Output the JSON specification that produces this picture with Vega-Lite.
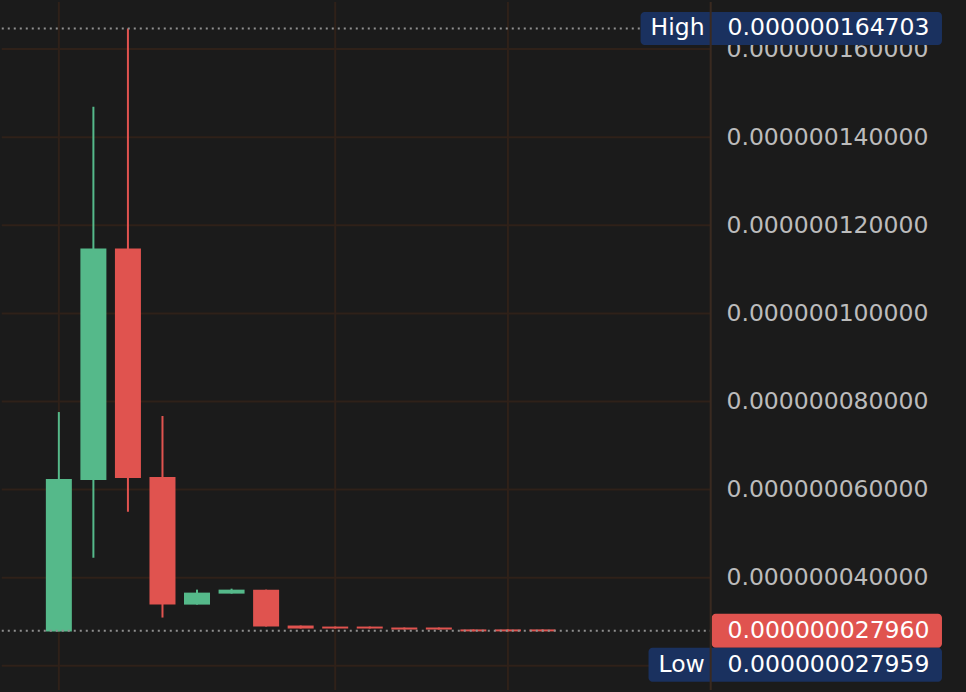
{
  "$schema": "https://vega.github.io/schema/vega-lite/v6.json",
  "width": 966,
  "height": 692,
  "autosize": {"type": "fit", "contains": "padding"},
  "padding": 0,
  "background": "#1b1b1b",
  "datasets": {
    "candles": [
      {"i": 0, "open": 0.0000000278, "close": 0.000000062423, "high": 0.0000000776, "low": 0.0000000278},
      {"i": 1, "open": 0.000000062197, "close": 0.000000114745, "high": 0.0000001469, "low": 0.00000004453},
      {"i": 2, "open": 0.000000114745, "close": 0.00000006265, "high": 0.000000164703, "low": 0.00000005495},
      {"i": 3, "open": 0.00000006288, "close": 0.00000003388, "high": 0.0000000767, "low": 0.00000003094},
      {"i": 4, "open": 0.00000003388, "close": 0.0000000366, "high": 0.00000003728, "low": 0.00000003388},
      {"i": 5, "open": 0.000000036376, "close": 0.00000003728, "high": 0.0000000375, "low": 0.000000036376},
      {"i": 6, "open": 0.00000003728, "close": 0.0000000289, "high": 0.00000003728, "low": 0.0000000289},
      {"i": 7, "open": 0.00000002913, "close": 0.00000002845, "high": 0.00000002913, "low": 0.00000002845},
      {"i": 8, "open": 0.0000000289, "close": 0.00000002845, "high": 0.0000000289, "low": 0.00000002845},
      {"i": 9, "open": 0.0000000289, "close": 0.00000002845, "high": 0.0000000289, "low": 0.00000002845},
      {"i": 10, "open": 0.00000002868, "close": 0.00000002822, "high": 0.00000002868, "low": 0.00000002822},
      {"i": 11, "open": 0.00000002868, "close": 0.00000002822, "high": 0.00000002868, "low": 0.00000002822},
      {"i": 12, "open": 0.00000002825, "close": 0.0000000278, "high": 0.00000002825, "low": 0.0000000278},
      {"i": 13, "open": 0.00000002825, "close": 0.0000000278, "high": 0.00000002825, "low": 0.0000000278},
      {"i": 14, "open": 0.00000002825, "close": 0.0000000278, "high": 0.00000002825, "low": 0.0000000278}
    ],
    "ticks": [
      {"tick": 0.00000002},
      {"tick": 0.00000004},
      {"tick": 0.00000006},
      {"tick": 0.00000008},
      {"tick": 0.0000001},
      {"tick": 0.00000012},
      {"tick": 0.00000014},
      {"tick": 0.00000016}
    ],
    "vgrid": [{"i": 0}, {"i": 8}, {"i": 13}]
  },
  "layer": [
    {
      "data": {"name": "ticks"},
      "mark": {"type": "rule", "strokeWidth": 2, "color": "#2f2119"},
      "encoding": {
        "x": {"datum": -1.652, "type": "quantitative"},
        "x2": {"datum": 18.87},
        "y": {"field": "tick", "type": "quantitative"}
      }
    },
    {
      "data": {"name": "vgrid"},
      "mark": {"type": "rule", "strokeWidth": 2, "color": "#2f2119"},
      "encoding": {
        "x": {"field": "i", "type": "quantitative"},
        "y": {"datum": 0.000000170691, "type": "quantitative"},
        "y2": {"datum": 0.000000014496}
      }
    },
    {
      "data": {"name": "candles"},
      "transform": [
        {"calculate": "datum.close >= datum.open ? 'up' : 'down'", "as": "dir"}
      ],
      "mark": {"type": "rule", "strokeWidth": 2},
      "encoding": {
        "x": {
          "field": "i",
          "type": "quantitative",
          "scale": {"domain": [-1.501, 26.116], "nice": false, "zero": false},
          "axis": {"title": null, "labels": false, "ticks": false, "domain": false, "grid": false}
        },
        "y": {
          "field": "low",
          "type": "quantitative",
          "scale": {"domain": [0.000000015629, 0.000000169558], "nice": false, "zero": false},
          "axis": {
            "orient": "right",
            "offset": -255,
            "values": [0.00000004, 0.00000006, 0.00000008, 0.0000001, 0.00000012, 0.00000014, 0.00000016],
            "format": ".12f",
            "title": null,
            "ticks": false,
            "domain": false,
            "grid": false,
            "labelPadding": 15,
            "labelLimit": 400,
            "labelFont": "DejaVu Sans",
            "labelFontSize": 23.5,
            "labelColor": "#bcbcbc"
          }
        },
        "y2": {"field": "high"},
        "color": {
          "field": "dir",
          "type": "nominal",
          "scale": {"domain": ["up", "down"], "range": ["#55b98a", "#e0534f"]},
          "legend": null
        }
      }
    },
    {
      "data": {"name": "candles"},
      "transform": [
        {"calculate": "datum.close >= datum.open ? 'up' : 'down'", "as": "dir"}
      ],
      "mark": {"type": "bar", "orient": "vertical", "size": 26},
      "encoding": {
        "x": {"field": "i", "type": "quantitative"},
        "y": {"field": "open", "type": "quantitative"},
        "y2": {"field": "close"},
        "color": {"field": "dir", "type": "nominal", "legend": null}
      }
    },
    {
      "data": {"values": [{"value": 0.000000164703}, {"value": 0.00000002796}]},
      "mark": {"type": "rule", "strokeWidth": 2, "strokeDash": [2, 4], "color": "#8f8f8f"},
      "encoding": {
        "x": {"datum": -1.652, "type": "quantitative"},
        "x2": {"datum": 18.87},
        "y": {"field": "value", "type": "quantitative"}
      }
    },
    {
      "data": {"values": [{"value": 0.000000164703}]},
      "mark": {"type": "bar", "orient": "horizontal", "size": 33, "cornerRadius": 4, "color": "#1a315f"},
      "encoding": {
        "x": {"datum": 16.84, "type": "quantitative"},
        "x2": {"datum": 25.565},
        "y": {"field": "value", "type": "quantitative"}
      }
    },
    {
      "data": {"values": [{"value": 0.00000002796}]},
      "mark": {"type": "bar", "orient": "horizontal", "size": 34, "cornerRadius": 4, "color": "#e0534f"},
      "encoding": {
        "x": {"datum": 18.899, "type": "quantitative"},
        "x2": {"datum": 25.565},
        "y": {"field": "value", "type": "quantitative"}
      }
    },
    {
      "data": {"values": [{"value": 0.000000027959}]},
      "mark": {"type": "bar", "orient": "horizontal", "size": 34, "cornerRadius": 4, "color": "#1a315f", "yOffset": 34},
      "encoding": {
        "x": {"datum": 17.07, "type": "quantitative"},
        "x2": {"datum": 25.565},
        "y": {"field": "value", "type": "quantitative"}
      }
    },
    {
      "data": {"values": [{"axis": "price"}]},
      "mark": {"type": "rule", "strokeWidth": 2, "color": "#3a2a20"},
      "encoding": {
        "x": {"datum": 18.87, "type": "quantitative"},
        "y": {"datum": 0.000000170691, "type": "quantitative"},
        "y2": {"datum": 0.000000014496}
      }
    },
    {
      "data": {"values": [{"value": 0.000000164703, "label": "High"}]},
      "mark": {"type": "text", "align": "left", "baseline": "middle", "font": "DejaVu Sans", "fontSize": 23.5, "color": "#ffffff"},
      "encoding": {
        "x": {"datum": 17.13, "type": "quantitative"},
        "y": {"field": "value", "type": "quantitative"},
        "text": {"field": "label"}
      }
    },
    {
      "data": {"values": [{"value": 0.000000027959, "label": "Low"}]},
      "mark": {"type": "text", "align": "left", "baseline": "middle", "font": "DejaVu Sans", "fontSize": 23.5, "color": "#ffffff", "yOffset": 34},
      "encoding": {
        "x": {"datum": 17.36, "type": "quantitative"},
        "y": {"field": "value", "type": "quantitative"},
        "text": {"field": "label"}
      }
    },
    {
      "data": {"values": [{"value": 0.000000164703}, {"value": 0.00000002796}]},
      "mark": {"type": "text", "align": "left", "baseline": "middle", "font": "DejaVu Sans", "fontSize": 23.5, "color": "#ffffff"},
      "encoding": {
        "x": {"datum": 19.36, "type": "quantitative"},
        "y": {"field": "value", "type": "quantitative"},
        "text": {"field": "value", "type": "quantitative", "format": ".12f"}
      }
    },
    {
      "data": {"values": [{"value": 0.000000027959}]},
      "mark": {"type": "text", "align": "left", "baseline": "middle", "font": "DejaVu Sans", "fontSize": 23.5, "color": "#ffffff", "yOffset": 34},
      "encoding": {
        "x": {"datum": 19.36, "type": "quantitative"},
        "y": {"field": "value", "type": "quantitative"},
        "text": {"field": "value", "type": "quantitative", "format": ".12f"}
      }
    }
  ],
  "config": {"view": {"stroke": null}}
}
